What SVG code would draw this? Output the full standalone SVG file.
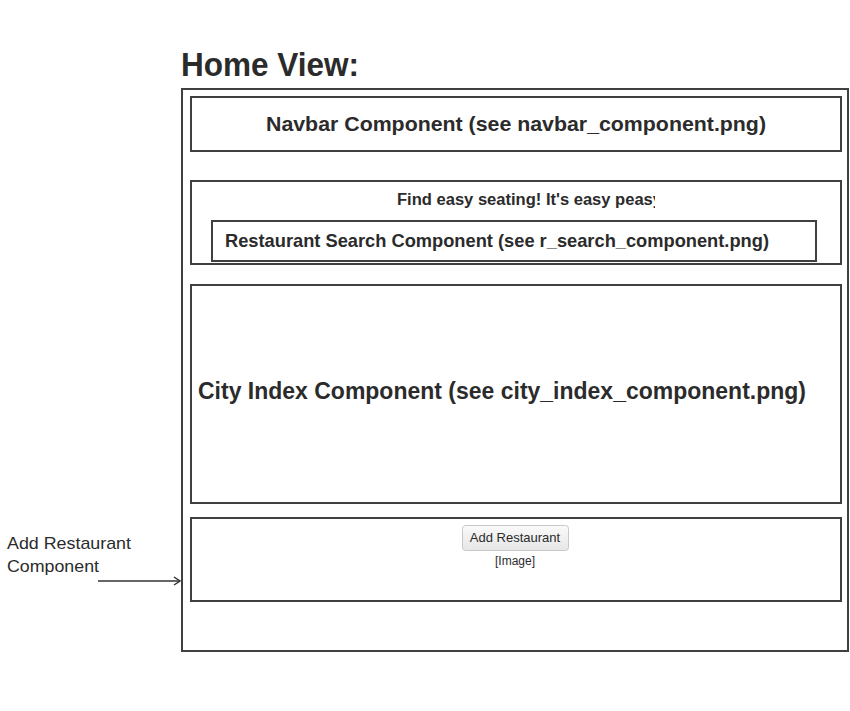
<svg xmlns="http://www.w3.org/2000/svg" width="850" height="711" viewBox="0 0 850 711">
<style>
.box{fill:none;stroke:#404040;stroke-width:2}
.t{font-family:"Liberation Sans",Arial,sans-serif;fill:#2b2b2b}
.b{font-weight:bold}
</style>
<defs>
<marker id="ah" markerWidth="10" markerHeight="10" refX="8" refY="5" orient="auto" markerUnits="userSpaceOnUse">
<path d="M2,1 L8,5 L2,9" fill="none" stroke="#333" stroke-width="1.5"/>
</marker>
<clipPath id="c1"><rect x="190" y="185" width="465" height="30"/></clipPath>
<linearGradient id="bg" x1="0" y1="0" x2="0" y2="1"><stop offset="0" stop-color="#fafafa"/><stop offset="1" stop-color="#e6e6e6"/></linearGradient>
</defs>
<rect width="850" height="711" fill="#fff"/>
<text class="t b" x="181" y="76" font-size="33" textLength="178" lengthAdjust="spacingAndGlyphs">Home View:</text>
<g id="home"><rect class="box" x="182" y="89" width="666" height="562"/></g>
<g id="navbar"><rect class="box" x="191" y="97" width="650" height="54"/>
<text class="t b" x="266" y="131" font-size="21" textLength="500" lengthAdjust="spacingAndGlyphs">Navbar Component (see navbar_component.png)</text></g>
<g id="search-section"><rect class="box" x="191" y="181" width="650" height="83"/>
<text class="t b" x="397" y="205" font-size="16" clip-path="url(#c1)" textLength="265" lengthAdjust="spacingAndGlyphs">Find easy seating! It's easy peasy</text></g>
<g id="search"><rect class="box" x="212" y="221" width="604" height="40"/>
<text class="t b" x="225" y="247" font-size="18.5" textLength="544" lengthAdjust="spacingAndGlyphs">Restaurant Search Component (see r_search_component.png)</text></g>
<g id="city"><rect class="box" x="191" y="285" width="650" height="218"/>
<text class="t b" x="198" y="399" font-size="23" textLength="608" lengthAdjust="spacingAndGlyphs">City Index Component (see city_index_component.png)</text></g>
<g id="add"><rect class="box" x="191" y="518" width="650" height="83"/>
<rect x="462.5" y="525.5" width="106" height="25" rx="3" fill="url(#bg)" stroke="#c8c8c8"/>
<text class="t" x="515" y="542" font-size="13" text-anchor="middle" fill="#222">Add Restaurant</text>
<text class="t" x="515" y="565" font-size="12" text-anchor="middle" fill="#444">[Image]</text></g>
<g id="label"><text class="t" x="7" y="549" font-size="17" textLength="124" lengthAdjust="spacingAndGlyphs">Add Restaurant</text>
<text class="t" x="7" y="572" font-size="17" textLength="92" lengthAdjust="spacingAndGlyphs">Component</text></g>
<g id="connectors"><line x1="98" y1="581" x2="180" y2="581" stroke="#333" stroke-width="1.5" marker-end="url(#ah)"/></g>
</svg>
